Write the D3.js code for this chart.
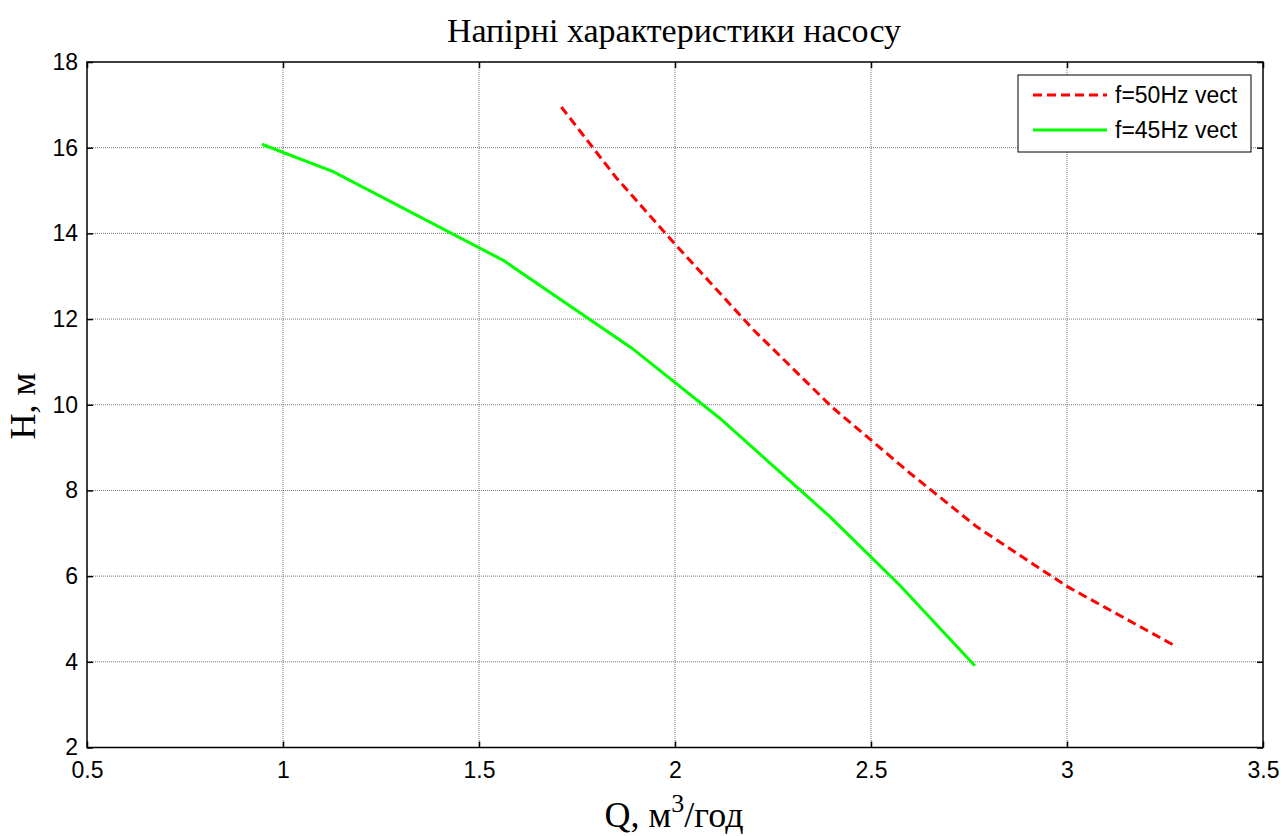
<!DOCTYPE html>
<html><head><meta charset="utf-8">
<script src="https://cdn.jsdelivr.net/npm/d3@7"></script>
<style>body{margin:0;background:#fff}</style>
</head><body>
<svg id="c" width="1283" height="836"></svg>
<script>
const xTicks = [0.5,1,1.5,2,2.5,3,3.5];
const yTicks = [2,4,6,8,10,12,14,16,18];
const q50 = [1.71,1.85,2.0,2.2,2.4,2.6,2.77,3.0,3.27];
const h50 = [16.95,15.3,13.75,11.75,9.95,8.4,7.15,5.76,4.4];
const q45 = [0.946,1.128,1.562,1.89,2.115,2.395,2.574,2.765];
const h45 = [16.08,15.44,13.37,11.32,9.68,7.39,5.78,3.91];
const seriesNames = ["f=50Hz vect","f=45Hz vect"];

(function(){
const svg = d3.select("#c");
const L=87,R=1263,T=62,B=747.5;
const x = d3.scaleLinear().domain([0.5,3.5]).range([L,R]);
const y = d3.scaleLinear().domain([2,18]).range([B,T]);

// grid
const g = svg.append("g");
g.selectAll(".gx").data(xTicks.slice(1,-1)).enter().append("line")
 .attr("x1",d=>x(d)).attr("x2",d=>x(d)).attr("y1",T).attr("y2",B)
 .attr("stroke","#777").attr("stroke-width",1).attr("stroke-dasharray","1,1");
g.selectAll(".gy").data(yTicks.slice(1,-1)).enter().append("line")
 .attr("y1",d=>y(d)).attr("y2",d=>y(d)).attr("x1",L).attr("x2",R)
 .attr("stroke","#777").attr("stroke-width",1).attr("stroke-dasharray","1,1");

// axes
const fmt = d=>String(d);
const ax = (gen, tr)=>{
  const a = svg.append("g").attr("transform",tr).call(gen);
  a.select(".domain").remove();
  a.selectAll("line").attr("stroke","#000").attr("stroke-width",1.5);
  return a;
};
const axB = ax(d3.axisBottom(x).tickValues(xTicks).tickFormat(fmt).tickSize(-6).tickPadding(14),`translate(0,${B})`);
axB.selectAll("text").attr("font-family","Liberation Sans, Arial, sans-serif").attr("font-size",23).attr("fill","#000");
const axL = ax(d3.axisLeft(y).tickValues(yTicks).tickFormat(fmt).tickSize(-6).tickPadding(9),`translate(${L},0)`);
axL.selectAll("text").attr("font-family","Liberation Sans, Arial, sans-serif").attr("font-size",23).attr("fill","#000");
ax(d3.axisTop(x).tickValues(xTicks).tickFormat("").tickSize(-6),`translate(0,${T})`);
ax(d3.axisRight(y).tickValues(yTicks).tickFormat("").tickSize(-6),`translate(${R},0)`);

svg.append("rect").attr("x",L).attr("y",T).attr("width",R-L).attr("height",B-T)
 .attr("fill","none").attr("stroke","#000").attr("stroke-width",1.5);

// lines
const line = d3.line().x(d=>x(d[0])).y(d=>y(d[1]));
svg.append("path").datum(q45.map((q,i)=>[q,h45[i]])).attr("d",line)
 .attr("fill","none").attr("stroke","#00ff00").attr("stroke-width",3);
svg.append("path").datum(q50.map((q,i)=>[q,h50[i]])).attr("d",line)
 .attr("fill","none").attr("stroke","#ff0000").attr("stroke-width",3).attr("stroke-dasharray","9,5");

// title & labels
svg.append("text").attr("x",674).attr("y",42).attr("text-anchor","middle")
 .attr("font-family","Liberation Serif, Times New Roman, serif").attr("font-size",34).text("Напірні характеристики насосу");
const xl = svg.append("text").attr("x",674).attr("y",827).attr("text-anchor","middle")
 .attr("font-family","Liberation Serif, Times New Roman, serif").attr("font-size",36);
xl.append("tspan").text("Q, м");
xl.append("tspan").attr("dy",-15).attr("font-size",26).text("3");
xl.append("tspan").attr("dy",15).text("/год");
svg.append("text").attr("transform",`translate(35,406) rotate(-90)`).attr("text-anchor","middle")
 .attr("font-family","Liberation Serif, Times New Roman, serif").attr("font-size",36).text("H, м");

// legend
const lg = svg.append("g");
lg.append("rect").attr("x",1018).attr("y",75).attr("width",233).attr("height",77)
 .attr("fill","#fff").attr("stroke","#000").attr("stroke-width",1);
const cols=["#ff0000","#00ff00"], dash=["9,5",null];
seriesNames.forEach((n,i)=>{
  const yy = 95+i*35;
  lg.append("line").attr("x1",1033).attr("x2",1107).attr("y1",yy).attr("y2",yy)
    .attr("stroke",cols[i]).attr("stroke-width",3).attr("stroke-dasharray",dash[i]);
  lg.append("text").attr("x",1115).attr("y",yy+8).attr("font-family","Liberation Sans, Arial, sans-serif")
    .attr("font-size",23).text(n);
});
})();
</script>
</body></html>
